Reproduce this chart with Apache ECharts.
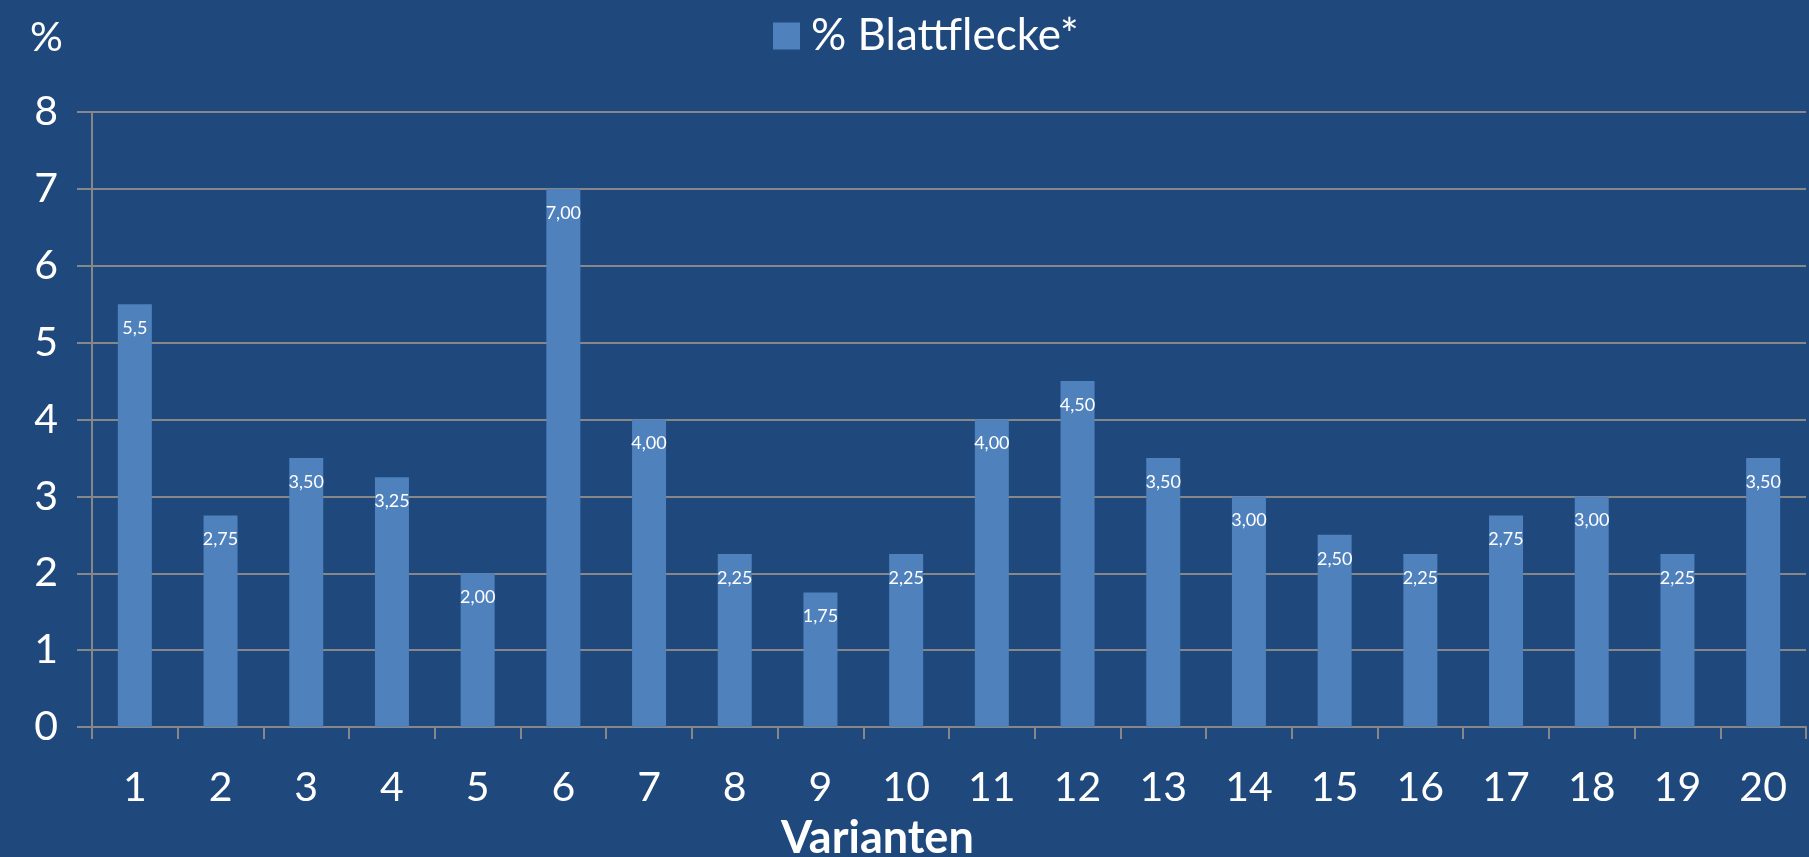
<!DOCTYPE html>
<html>
<head>
<meta charset="utf-8">
<script src="https://cdn.jsdelivr.net/npm/echarts@6/dist/echarts.min.js"></script>
<style>
html,body{margin:0;padding:0;background:#1F497D;}
#chart{width:1809px;height:857px;}
</style>
</head>
<body>
<div id="chart"></div>
<script>
const categories = ['1','2','3','4','5','6','7','8','9','10','11','12','13','14','15','16','17','18','19','20'];
const values = [5.5, 2.75, 3.5, 3.25, 2.0, 7.0, 4.0, 2.25, 1.75, 2.25, 4.0, 4.5, 3.5, 3.0, 2.5, 2.25, 2.75, 3.0, 2.25, 3.5];
const valueLabels = ['5,5','2,75','3,50','3,25','2,00','7,00','4,00','2,25','1,75','2,25','4,00','4,50','3,50','3,00','2,50','2,25','2,75','3,00','2,25','3,50'];
const seriesName = '% Blattflecke*';
const xAxisTitle = 'Varianten';
const yAxisTitle = '%';

const FONT = 'Lato, "Open Sans", sans-serif';
const chart = echarts.init(document.getElementById('chart'), null, {renderer: 'canvas'});
chart.setOption({
  backgroundColor: '#1F497D',
  animation: false,
  textStyle: {fontFamily: FONT},
  title: [
    {text: yAxisTitle, left: 25, top: 12, textStyle: {color: '#fff', fontSize: 41, fontWeight: 'normal', fontFamily: FONT}},
    {text: xAxisTitle, left: 776, top: 811, textStyle: {color: '#fff', fontSize: 45, fontWeight: 'bold', fontFamily: FONT}}
  ],
  legend: {
    data: [seriesName],
    left: 768, top: 9,
    itemWidth: 27, itemHeight: 27, icon: 'rect', itemGap: 10,
    textStyle: {color: '#fff', fontSize: 44, fontFamily: FONT, padding: [0, 0, 0, 6]}
  },
  grid: {left: 92, right: 3, top: 112, bottom: 130, containLabel: false},
  xAxis: {
    type: 'category',
    data: categories,
    axisLine: {lineStyle: {color: '#878787', width: 2}},
    axisTick: {show: true, length: 12, lineStyle: {color: '#878787', width: 2}},
    axisLabel: {color: '#fff', fontSize: 41, margin: 40, fontFamily: FONT},
    splitLine: {show: false}
  },
  yAxis: {
    type: 'value',
    min: 0, max: 8, interval: 1,
    axisLine: {show: true, lineStyle: {color: '#878787', width: 2}},
    axisTick: {show: true, length: 15, lineStyle: {color: '#878787', width: 2}},
    axisLabel: {color: '#fff', fontSize: 41, margin: 34, fontFamily: FONT},
    splitLine: {show: true, lineStyle: {color: '#878787', width: 2}}
  },
  series: [{
    name: seriesName,
    type: 'bar',
    data: values,
    barWidth: 34,
    itemStyle: {color: '#4F81BD'},
    label: {
      show: true,
      position: 'insideTop',
      distance: 15,
      color: '#fff',
      fontSize: 18,
      fontFamily: FONT,
      formatter: p => valueLabels[p.dataIndex]
    }
  }]
});
</script>
</body>
</html>
